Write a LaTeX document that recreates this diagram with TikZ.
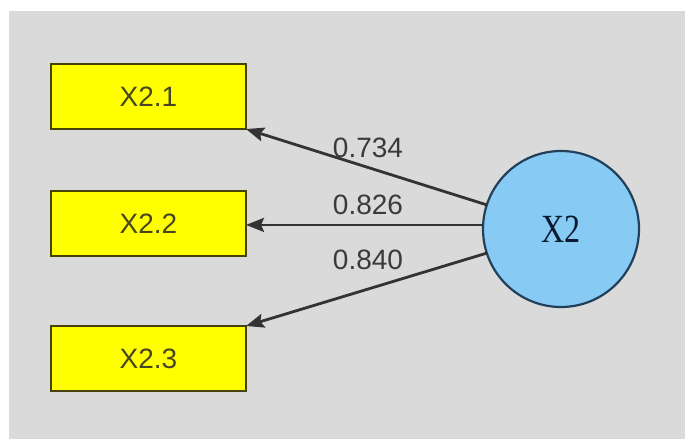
\documentclass[tikz,border=0pt]{standalone}
\usepackage{fontspec}
\setmainfont{Liberation Sans}
\newfontfamily\serifx{Liberation Serif}
\usetikzlibrary{arrows.meta}
\definecolor{bggray}{HTML}{DADADA}
\definecolor{boxyellow}{HTML}{FFFF00}
\definecolor{boxborder}{HTML}{45420A}
\definecolor{boxtext}{HTML}{48461E}
\definecolor{circfill}{HTML}{87CBF5}
\definecolor{circborder}{HTML}{22405A}
\definecolor{circtext}{HTML}{0C1A30}
\definecolor{arrcol}{HTML}{333333}
\definecolor{labcol}{HTML}{3A3A3A}
\tikzset{
  indbox/.style={draw=boxborder, fill=boxyellow, line width=2.8pt, minimum width=195pt, minimum height=65pt, inner sep=0pt, outer sep=0pt, text=boxtext, font=\fontsize{28}{28}\selectfont},
  latent/.style={circle, draw=circborder, fill=circfill, line width=2.2pt, minimum size=156pt, inner sep=0pt, outer sep=0pt, text=circtext, font=\serifx\fontsize{32}{32}\selectfont},
  loadarr/.style={draw=arrcol, line width=2.8pt, -{Stealth[length=18pt,width=14pt,inset=3pt]}},
  loadlab/.style={text=labcol, font=\fontsize{28}{28}\selectfont, inner sep=0pt}
}
\begin{document}
\begin{tikzpicture}[x=1pt,y=-1pt]
\useasboundingbox (0,0) rectangle (685,439);
\fill[bggray] (9,11) rectangle (685,439);
\node[indbox] (b1) at (148.5,96.5) {X2.1};
\node[indbox] (b2) at (148.5,223.5) {X2.2};
\node[indbox] (b3) at (148.5,358.5) {X2.3};
\node[latent] (c) at (561,229) {\scalebox{1}[1.25]{X2}};
\draw[loadarr] (c.162) -- (b1.south east);
\draw[loadarr] (c.177) -- (b2.east |- c.177);
\draw[loadarr] (c.198) -- (b3.north east);
\node[loadlab] (l1) at (368,148) {0.734};
\node[loadlab] (l2) at (368,205) {0.826};
\node[loadlab] (l3) at (368,260) {0.840};
\end{tikzpicture}
\end{document}
